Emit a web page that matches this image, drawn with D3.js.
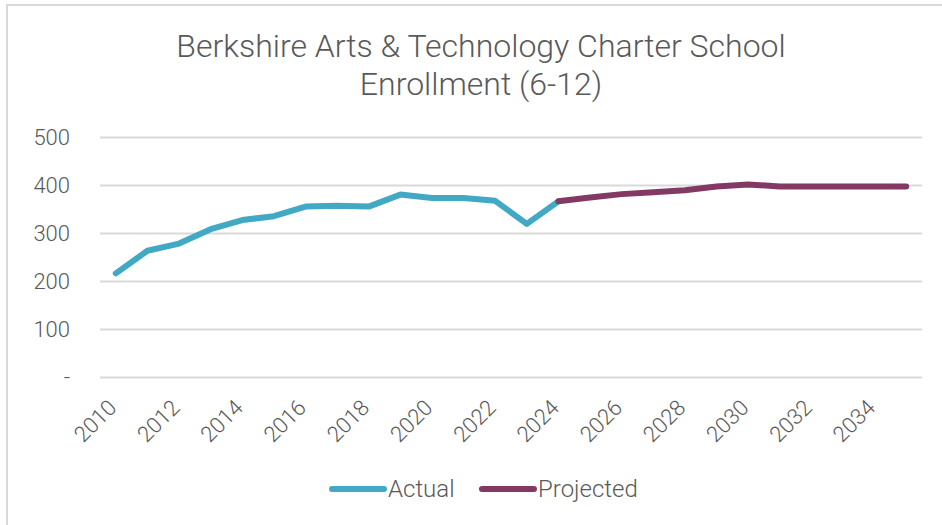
<!DOCTYPE html>
<html><head><meta charset="utf-8">
<script src="https://cdn.jsdelivr.net/npm/d3@7/dist/d3.min.js"></script>
<style>
html,body{margin:0;padding:0;background:#fff;}
svg{display:block;font-family:Roboto,"Noto Sans",sans-serif;}
</style></head>
<body><svg id="c" width="942" height="525"></svg>
<script>
const titleLines = ["Berkshire Arts & Technology Charter School", "Enrollment (6-12)"];
const years = d3.range(2010, 2036);
const actualYears = [2010,2011,2012,2013,2014,2015,2016,2017,2018,2019,2020,2021,2022,2023,2024];
const actualValues = [216,263,278,308,327,335,355,357,355,380,373,373,367,319,366];
const projYears = [2024,2025,2026,2027,2028,2029,2030,2031,2032,2033,2034,2035];
const projValues = [366,374,381,385,389,397,401,397,397,397,397,397];
const yTicks = [0,100,200,300,400,500];
const xTickLabels = [2010,2012,2014,2016,2018,2020,2022,2024,2026,2028,2030,2032,2034];
const seriesNames = ["Actual","Projected"];
const colors = ["#41a9c4","#833964"];

(function(){
const svg = d3.select("#c");
const textColor = "#595959";

svg.append("rect").attr("x",7).attr("y",5).attr("width",960).attr("height",560)
  .attr("fill","none").attr("stroke","#d9d9d9").attr("stroke-width",2);

const mLeft = 100, mRight = 922, mTop = 137, mBottom = 377;
const x = d3.scaleBand().domain(years).range([mLeft,mRight]);
const y = d3.scaleLinear().domain([0,500]).range([mBottom,mTop]);

// title
svg.append("text").attr("x",481).attr("y",57).attr("text-anchor","middle")
  .attr("font-size",32).attr("font-weight",300).attr("fill",textColor).text(titleLines[0]);
svg.append("text").attr("x",481).attr("y",95).attr("text-anchor","middle")
  .attr("font-size",32).attr("font-weight",300).attr("fill",textColor).text(titleLines[1]);

// grid
const yAxis = d3.axisLeft(y).tickValues(yTicks).tickSize(-(mRight-mLeft)).tickFormat(d=> d===0 ? "-" : d);
const gy = svg.append("g").attr("transform",`translate(${mLeft},0)`).call(yAxis);
gy.select(".domain").remove();
gy.selectAll(".tick line").attr("stroke","#d9d9d9").attr("stroke-width",2);
gy.selectAll(".tick text").attr("x",-30).attr("font-size",22).attr("font-weight",300)
  .attr("fill",textColor).attr("font-family","Roboto,'Noto Sans',sans-serif");

// x axis labels
const xAxis = d3.axisBottom(x).tickValues(xTickLabels).tickSize(0).tickFormat(d=>d);
const gx = svg.append("g").attr("transform",`translate(0,${mBottom})`).call(xAxis);
gx.select(".domain").remove();
gx.selectAll(".tick text")
  .attr("font-size",22).attr("font-weight",300).attr("fill",textColor)
  .attr("font-family","Roboto,'Noto Sans',sans-serif")
  .attr("text-anchor","end").attr("dy",null).attr("y",0)
  .attr("transform","translate(2,32) rotate(-45)");

const cx = d => x(d) + x.bandwidth()/2;
const line = d3.line().x(d=>cx(d[0])).y(d=>y(d[1]));
const actual = actualYears.map((yr,i)=>[yr,actualValues[i]]);
const proj = projYears.map((yr,i)=>[yr,projValues[i]]);
svg.append("path").datum(actual).attr("d",line).attr("fill","none")
  .attr("stroke",colors[0]).attr("stroke-width",6).attr("stroke-linecap","round").attr("stroke-linejoin","round");
svg.append("path").datum(proj).attr("d",line).attr("fill","none")
  .attr("stroke",colors[1]).attr("stroke-width",6).attr("stroke-linecap","round").attr("stroke-linejoin","round");

// legend
const legX = [332, 482];
seriesNames.forEach((n,i)=>{
  svg.append("line").attr("x1",legX[i]).attr("x2",legX[i]+52).attr("y1",489).attr("y2",489)
    .attr("stroke",colors[i]).attr("stroke-width",6).attr("stroke-linecap","round");
  svg.append("text").attr("x",legX[i]+56).attr("y",497).attr("font-size",24).attr("font-weight",300)
    .attr("fill",textColor).text(n);
});
})();
</script></body></html>
